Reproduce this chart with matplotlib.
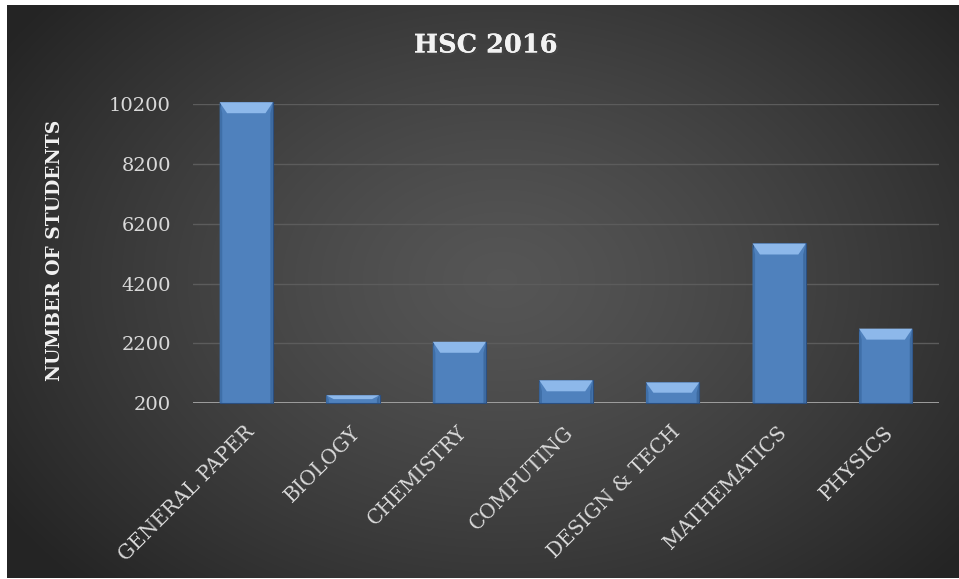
import numpy as np
import matplotlib
matplotlib.use('Agg')
import matplotlib.pyplot as plt
from matplotlib.patches import Polygon
import matplotlib.patheffects as pe
import matplotlib.transforms as mtransforms

# Data
subjects = ['GENERAL PAPER', 'BIOLOGY', 'CHEMISTRY', 'COMPUTING',
            'DESIGN & TECH', 'MATHEMATICS', 'PHYSICS']
students = [10270, 460, 2250, 960, 890, 5540, 2690]
yticks = [200, 2200, 4200, 6200, 8200, 10200]

W, H = 959, 579
fig = plt.figure(figsize=(W / 100, H / 100), dpi=100, facecolor='white')

# dark radial gradient background
bg = fig.add_axes([7 / W, 1 / H, 952 / W, 573 / H])
gx, gy = np.meshgrid(np.linspace(0, 1, 400), np.linspace(0, 1, 250))
r = np.sqrt(((gx - 0.52) / 0.62) ** 2 + ((gy - 0.48) / 0.75) ** 2)
r = np.clip(r, 0, 1)
shade = 0.335 - 0.19 * r ** 1.3
bg.imshow(np.dstack([shade] * 3), aspect='auto', extent=(0, 1, 0, 1),
          interpolation='bicubic')
bg.axis('off')

ax_h = 298.7
ax = fig.add_axes([193 / W, (H - 403) / H, 746 / W, ax_h / H])
ax.set_facecolor('none')
ymin, ymax = 200, 10200
ax.set_ylim(ymin, ymax)
ax.set_xlim(-0.5, len(subjects) - 0.5)

x = np.arange(len(subjects))
bw = 0.5
heights = [v - ymin for v in students]
ax.bar(x, heights, bottom=ymin, width=bw, color='#4f81bd', edgecolor='#2b4f80',
       linewidth=0.8, zorder=3, clip_on=False)

# bevel on top of each bar
per_px = (ymax - ymin) / ax_h
bx = 0.07
for xi, v in zip(x, students):
    by = min(11 * per_px, (v - ymin) / 2)
    l, rr = xi - bw / 2, xi + bw / 2
    top = Polygon([(l, v), (rr, v), (rr - bx, v - by), (l + bx, v - by)],
                  closed=True, facecolor='#8db8ea', edgecolor='none', zorder=4,
                  clip_on=False)
    left = Polygon([(l, v), (l + bx * 0.35, v - by), (l + bx * 0.35, ymin), (l, ymin)],
                   closed=True, facecolor='#3f6fa8', edgecolor='none', zorder=4,
                   clip_on=False)
    right = Polygon([(rr, v), (rr - bx * 0.35, v - by), (rr - bx * 0.35, ymin), (rr, ymin)],
                    closed=True, facecolor='#3d6aa0', edgecolor='none', zorder=4,
                    clip_on=False)
    ax.add_patch(top)
    ax.add_patch(left)
    ax.add_patch(right)

ax.set_yticks(yticks)
ax.set_yticklabels([str(t) for t in yticks])
ax.set_xticks(x)
ax.set_xticklabels(subjects, rotation=45, ha='right', va='center',
                   rotation_mode='anchor')
for s in ax.spines.values():
    s.set_visible(False)
ax.grid(axis='y', color='#5c5c5c', linewidth=1, zorder=1)
ax.axhline(ymin, color='#a6a6a6', linewidth=2, zorder=2)
ax.tick_params(axis='y', length=0, pad=16, labelsize=14, labelcolor='#d9d9d9')
ax.tick_params(axis='x', length=0, pad=19, labelsize=14.5, labelcolor='#d9d9d9')
shift = mtransforms.ScaledTranslation(5 / 100, 0, fig.dpi_scale_trans)
for lab in ax.get_xticklabels():
    lab.set_transform(lab.get_transform() + shift)
for lab in ax.get_xticklabels() + ax.get_yticklabels():
    lab.set_family('DejaVu Serif')

fig.text(486 / W, 1 - 45 / H, 'HSC 2016', ha='center', va='center',
         fontsize=18.5, fontweight='bold', family='DejaVu Serif', color='#f2f2f2',
         path_effects=[pe.withSimplePatchShadow(offset=(1.5, -1.5), alpha=0.6),
                       pe.Normal()])
fig.text(55 / W, 1 - 250 / H, 'NUMBER OF STUDENTS', ha='center', va='center',
         rotation=90, fontsize=13.5, fontweight='bold', family='DejaVu Serif',
         color='#f2f2f2')

fig.savefig('out.png', dpi=100, facecolor='white')
